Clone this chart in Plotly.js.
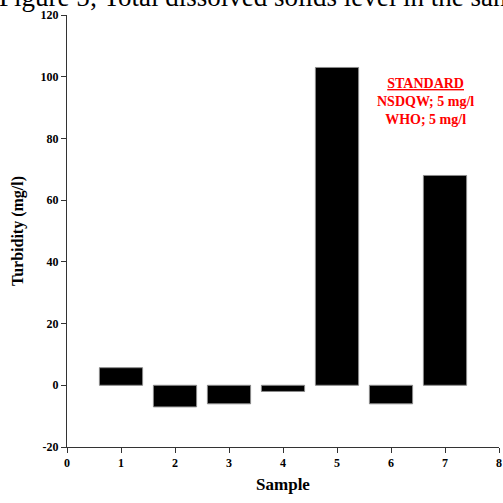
<!DOCTYPE html>
<html>
<head>
<meta charset="utf-8">
<script src="https://cdn.plot.ly/plotly-3.0.1.min.js"></script>
<style>html,body{margin:0;padding:0;background:#fff}#chart{width:503px;height:503px}</style>
</head>
<body>
<div id="chart"></div>
<script>
const samples = [1, 2, 3, 4, 5, 6, 7];
const turbidity = [5.7, -7, -6, -2, 103, -6, 68];
const xTicks = [0, 1, 2, 3, 4, 5, 6, 7, 8];
const yTicks = [-20, 0, 20, 40, 60, 80, 100, 120];
const titleText = "Figure 5; Total dissolved solids level in the samples";
const standardText = "<b><u>STANDARD</u></b><br><b>NSDQW; 5 mg/l</b><br><b>WHO; 5 mg/l</b>";

const font = "Liberation Serif, Times New Roman, serif";

const trace = {
  type: 'bar',
  x: samples,
  y: turbidity,
  width: 0.8,
  marker: {color: '#000', line: {color: '#8a8a8a', width: 1}},
  hoverinfo: 'skip'
};

const layout = {
  width: 503, height: 503,
  margin: {l: 67, r: 4, t: 15, b: 56},
  paper_bgcolor: '#fff', plot_bgcolor: '#fff',
  showlegend: false,
  font: {family: font, color: '#000'},
  xaxis: {
    range: [0, 8], tickvals: xTicks, ticktext: xTicks.map(String),
    showgrid: false, zeroline: false, showline: true, linecolor: '#333', linewidth: 1,
    ticks: 'outside', ticklen: 5, tickcolor: '#333',
    tickfont: {family: font, size: 12, color: '#000', weight: 'bold'},
    title: {text: '<b>Sample</b>', font: {family: font, size: 17, color: '#000'}, standoff: 8}
  },
  yaxis: {
    range: [-20, 120], tickvals: yTicks, ticktext: yTicks.map(String),
    showgrid: false, zeroline: false, showline: true, linecolor: '#333', linewidth: 1,
    ticks: 'outside', ticklen: 5, tickcolor: '#333',
    tickfont: {family: font, size: 12, color: '#000', weight: 'bold'},
    title: {text: '<b>Turbidity (mg/l)</b>', font: {family: font, size: 16, color: '#000'}, standoff: 12}
  },
  annotations: [{
    text: titleText, x: -0.162, y: 1.041, xref: 'paper', yref: 'paper',
    xanchor: 'left', yanchor: 'middle', showarrow: false, align: 'left',
    font: {family: font, size: 27, color: '#000'}
  }, {
    text: standardText, x: 6.63, y: 92, xref: 'x', yref: 'y',
    showarrow: false, align: 'center',
    font: {family: font, size: 14, color: '#ff0000'}
  }]
};

Plotly.newPlot('chart', [trace], layout, {displayModeBar: false, staticPlot: true});
</script>
</body>
</html>
